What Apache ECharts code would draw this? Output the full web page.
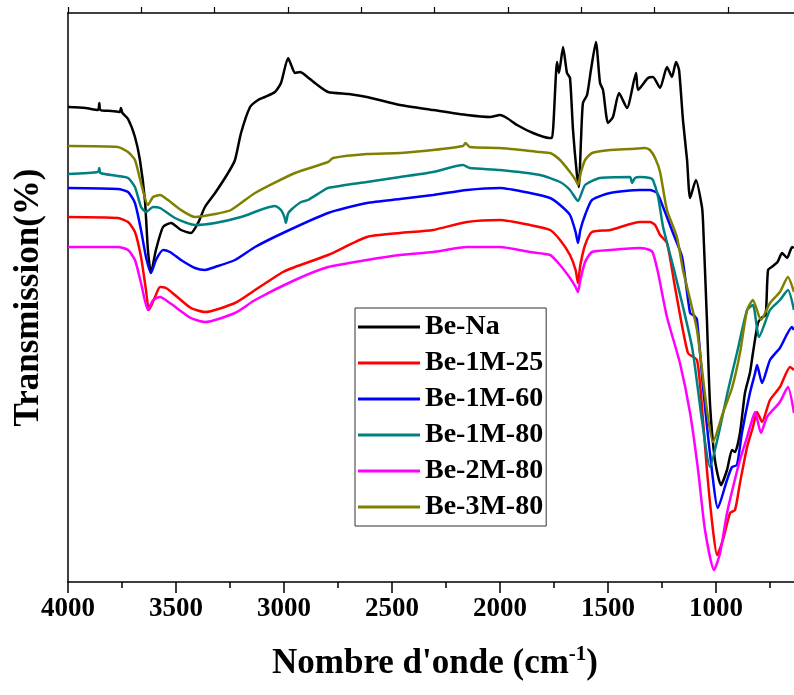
<!DOCTYPE html>
<html lang="fr">
<head>
    <meta charset="UTF-8">
    <title>FTIR Be</title>
    <script src="https://cdn.jsdelivr.net/npm/echarts@6/dist/echarts.min.js"></script>
    <style>
        html, body { margin: 0; padding: 0; background: #fff; }
        #main { width: 794px; height: 695px; }
    </style>
</head>
<body>
<div id="main"></div>
<script type="text/javascript">
// noms des échantillons (ordre de la légende)
var names = ['Be-Na', 'Be-1M-25', 'Be-1M-60', 'Be-1M-80', 'Be-2M-80', 'Be-3M-80'];
var colors = ['#000000', '#ff0000', '#0000ff', '#008080', '#ff00ff', '#808000'];

// graduations de l'axe x (cm-1)
var xTicks = [4000, 3500, 3000, 2500, 2000, 1500, 1000];

// Be-Na
var wnBeNa = [4000,3920,3861,3855,3850,3800,3760,3755,3748,3722,3690,3667,3644,3630,3616,3593,3560,3523,3477,3431,3398,3366,3319,3259,3227,3199,3157,3120,3088,3042,3014,2981,2965,2949,2925,2903,2857,2796,2700,2616,2463,2310,2153,2046,2000,1968,1921,1847,1773,1759,1736,1727,1708,1690,1676,1662,1645,1635,1625,1616,1597,1579,1556,1537,1523,1500,1477,1449,1412,1370,1361,1315,1292,1259,1227,1204,1185,1171,1153,1134,1120,1093,1065,1060,1042,1028,1005,977,949,926,912,889,866,843,829,806,790,770,759,736,715,694,671,648,640];
var tBeNa = [475,474,472,479,472,471,470,474,469,463,445,422,382,332,309,332,355,359,352,349,359,375,389,409,422,449,475,482,485,490,499,524,516,509,510,507,499,490,488,485,477,472,467,465,467,464,457,449,444,444,520,509,535,509,504,452,410,395,442,479,487,512,540,499,492,459,465,489,474,509,492,504,505,494,515,505,520,512,462,422,384,402,375,360,262,179,122,97,112,132,130,149,189,209,229,259,264,267,312,316,320,329,324,335,334];

// Be-1M-25
var wnBe1M25 = [4000,3769,3722,3690,3662,3639,3625,3597,3574,3546,3505,3431,3366,3227,3134,3042,3005,2949,2796,2616,2463,2310,2153,2000,1861,1768,1722,1676,1650,1639,1628,1606,1574,1490,1352,1306,1282,1259,1227,1190,1130,1088,1065,1042,1014,995,968,935,912,889,856,829,810,787,750,704,657,639];
var tBe1M25 = [365,364,360,350,325,292,272,285,295,294,287,274,270,279,292,305,310,315,327,345,349,352,360,362,357,352,342,327,312,299,317,337,350,352,360,360,357,347,339,295,229,222,175,112,52,27,42,69,72,99,135,155,170,160,182,195,215,212];

// Be-1M-60
var wnBe1M60 = [4000,3769,3722,3690,3662,3639,3616,3593,3560,3528,3477,3412,3366,3319,3227,3134,2995,2796,2616,2463,2310,2153,2000,1861,1768,1722,1676,1650,1639,1628,1606,1574,1490,1352,1306,1273,1245,1199,1157,1120,1100,1088,1060,1028,991,949,926,903,880,843,819,810,787,750,704,648,639];
var tBe1M60 = [394,393,390,379,352,325,309,322,332,330,322,314,312,315,322,335,350,369,379,383,387,392,394,389,384,377,367,350,339,352,367,382,389,392,392,389,375,349,325,269,266,262,195,129,74,102,115,117,149,189,209,217,199,222,234,255,252];

// Be-1M-80
var wnBe1M80 = [4000,3861,3855,3850,3769,3722,3690,3662,3639,3606,3574,3505,3412,3319,3199,3042,3014,2998,2991,2982,2968,2921,2889,2829,2796,2616,2463,2310,2171,2140,2000,1815,1722,1676,1639,1606,1537,1398,1389,1375,1352,1306,1292,1268,1245,1194,1111,1065,1028,991,944,903,856,829,801,750,704,667,639];
var tBe1M80 = [408,410,414,409,406,404,395,375,370,375,374,364,357,359,365,376,372,365,359,368,372,380,382,390,394,400,405,410,417,414,412,407,400,392,381,397,404,405,399,404,405,404,402,385,355,312,235,162,115,145,192,229,272,277,245,272,282,292,272];

// Be-2M-80
var wnBe2M80 = [4000,3769,3722,3690,3662,3630,3606,3574,3528,3431,3366,3227,3134,2949,2796,2616,2463,2310,2153,2000,1861,1768,1722,1676,1650,1639,1628,1606,1574,1490,1352,1306,1292,1268,1227,1167,1120,1083,1051,1009,981,949,921,889,856,833,819,792,764,704,667,639];
var tBe2M80 = [335,335,332,322,299,272,282,285,279,264,260,269,282,302,315,322,327,330,335,335,330,327,317,304,295,290,302,320,330,332,334,332,329,309,265,219,169,112,52,12,29,69,95,122,145,162,170,149,165,180,195,169];

// Be-3M-80
var wnBe3M80 = [4000,3769,3722,3690,3662,3630,3606,3574,3537,3477,3412,3319,3245,3134,2949,2796,2773,2616,2463,2310,2171,2160,2140,2000,1815,1768,1722,1676,1650,1639,1625,1606,1574,1490,1398,1329,1306,1282,1259,1227,1181,1153,1134,1088,1042,1014,968,926,889,856,829,792,750,704,667,639];
var tBe3M80 = [436,435,430,422,399,377,385,387,382,372,365,368,372,389,409,420,424,428,429,432,436,439,435,434,430,429,422,410,402,397,410,422,429,432,433,434,432,424,410,372,345,312,295,252,172,140,169,194,229,272,282,262,279,290,305,290];

var wnList = [wnBeNa, wnBe1M25, wnBe1M60, wnBe1M80, wnBe2M80, wnBe3M80];
var tList = [tBeNa, tBe1M25, tBe1M60, tBe1M80, tBe2M80, tBe3M80];

var font = '"Liberation Serif", "Times New Roman", serif';

var series = names.map(function (n, i) {
    return {
        name: n,
        type: 'line',
        xAxisIndex: 0,
        symbol: 'none',
        smooth: 0.2,
        lineStyle: { width: 2.5, color: colors[i] },
        itemStyle: { color: colors[i] },
        data: wnList[i].map(function (w, k) { return [w, tList[i][k]]; })
    };
});

var myChart = echarts.init(document.getElementById('main'));
myChart.setOption({
    animation: false,
    // l'axe continue jusqu'à 500 cm-1, hors de l'image à droite
    grid: { left: 68, width: 756, top: 13, bottom: 113, outerBoundsMode: 'none', containLabel: false },
    legend: {
        data: names.map(function (n) { return { name: n, icon: 'rect' }; }),
        orient: 'vertical',
        left: 355,
        top: 308,
        padding: [5, 3, 5, 3],
        itemGap: 8,
        itemWidth: 62,
        itemHeight: 3,
        borderColor: '#333',
        borderWidth: 1,
        textStyle: { fontFamily: font, fontWeight: 'bold', fontSize: 28, lineHeight: 28, color: '#000' }
    },
    xAxis: [{
        type: 'value',
        min: 500,
        max: 4000,
        interval: 500,
        inverse: true,
        position: 'bottom',
        splitLine: { show: false },
        axisLine: { lineStyle: { color: '#000', width: 1.5 } },
        axisTick: { inside: false, length: 11, lineStyle: { color: '#000', width: 1.5 } },
        minorTick: { show: true, splitNumber: 2, length: 6, lineStyle: { color: '#000', width: 1.5 } },
        axisLabel: {
            margin: 14,
            color: '#000',
            fontFamily: font,
            fontWeight: 'bold',
            fontSize: 27,
            formatter: function (v) { return xTicks.indexOf(v) >= 0 ? String(v) : ''; }
        },
        name: '{a|Nombre d\'onde (cm}{s|-1}{a|)}',
        nameLocation: 'middle',
        nameGap: 62,
        nameTextStyle: {
            padding: [0, 22, 0, 0],
            rich: {
                a: { fontFamily: font, fontWeight: 'bold', fontSize: 35, color: '#000' },
                s: { fontFamily: font, fontWeight: 'bold', fontSize: 21, color: '#000', verticalAlign: 'top', padding: [0, 0, 18, 0] }
            }
        }
    }, {
        // cadre supérieur avec petites graduations
        type: 'value',
        position: 'top',
        min: 0,
        max: 1031,
        interval: 100,
        splitLine: { show: false },
        axisLine: { show: true, onZero: false, lineStyle: { color: '#000', width: 1.5 } },
        axisTick: { show: true, inside: false, length: 6, lineStyle: { color: '#000', width: 1.2 } },
        axisLabel: { show: false }
    }],
    yAxis: {
        type: 'value',
        min: 0,
        max: 569,
        splitLine: { show: false },
        axisLine: { show: true, onZero: false, lineStyle: { color: '#000', width: 1.5 } },
        axisTick: { show: false },
        axisLabel: { show: false },
        name: 'Transmission(%)',
        nameLocation: 'middle',
        nameGap: 22,
        nameTextStyle: { fontFamily: font, fontWeight: 'bold', fontSize: 35, color: '#000' }
    },
    series: series
});
</script>
</body>
</html>
